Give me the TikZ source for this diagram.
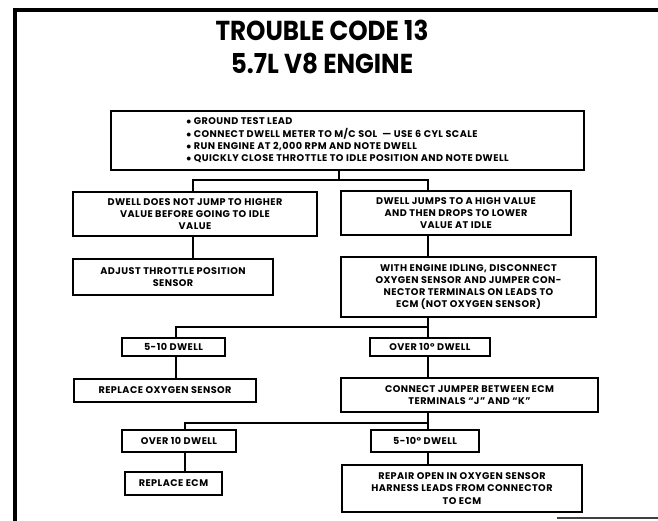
\documentclass[tikz,border=0pt]{standalone}
\usepackage{fontspec}
\setmainfont{Poppins}
\newfontfamily\titlefont[FakeStretch=0.9]{Poppins}
\newfontfamily\labelfont[LetterSpace=4.5]{Poppins}
\newcommand\bodyfont{\labelfont\fontsize{9.7}{12.3}\selectfont\bfseries}
\begin{document}
\begin{tikzpicture}[x=1bp,y=-1bp,
  box/.style={draw, line width=1.7bp, inner sep=0pt, outer sep=0pt,
    align=center, font=\bodyfont, anchor=north west},
  conn/.style={line width=1.7bp},
  frameline/.style={line width=3.6bp},
  titletext/.style={font=\titlefont\bfseries\fontsize{27.5}{33}\selectfont, anchor=base}]
\useasboundingbox (0,0) rectangle (658,521);

% page frame
\draw[frameline] (15,521) -- (15,10) -- (658,10);
\draw[line width=1.6bp, black!75] (557,518) -- (658,518);

% heading
\node[titletext] (title1) at (322,41) {TROUBLE CODE 13};
\node[titletext] (title2) at (322,74) {5.7L V8 ENGINE};

% test procedure
\node[box, minimum width=473bp, minimum height=59bp, align=left] (b0) at (111,111)
  {$\bullet$\ GROUND TEST LEAD\\
   $\bullet$\ CONNECT DWELL METER TO M/C SOL\ \ — USE 6 CYL SCALE\\
   $\bullet$\ RUN ENGINE AT 2,000 RPM AND NOTE DWELL\\
   $\bullet$\ QUICKLY CLOSE THROTTLE TO IDLE POSITION AND NOTE DWELL};

% first result level
\node[box, minimum width=244bp, minimum height=44bp] (b1l) at (73,192)
  {DWELL DOES NOT JUMP TO HIGHER\\VALUE BEFORE GOING TO IDLE\\VALUE};
\node[box, minimum width=230bp, minimum height=44bp] (b1r) at (341,191)
  {DWELL JUMPS TO A HIGH VALUE\\AND THEN DROPS TO LOWER\\VALUE AT IDLE};

\node[box, minimum width=200bp, minimum height=36bp] (b2l) at (73,259)
  {ADJUST THROTTLE POSITION\\SENSOR};
\node[box, minimum width=255bp, minimum height=60bp] (b2r) at (341,257)
  {WITH ENGINE IDLING, DISCONNECT\\OXYGEN SENSOR AND JUMPER CON-\\NECTOR TERMINALS ON LEADS TO\\ECM (NOT OXYGEN SENSOR)};

% second result level
\node[box, minimum width=103bp, minimum height=18bp] (b3l) at (122,338) {5-10 DWELL};
\node[box, minimum width=120bp, minimum height=18bp] (b3r) at (370,338) {OVER 10° DWELL};

\node[box, minimum width=182bp, minimum height=23bp] (b4l) at (74,379) {REPLACE OXYGEN SENSOR};
\node[box, minimum width=257bp, minimum height=34bp] (b4r) at (341,378)
  {CONNECT JUMPER BETWEEN ECM\\TERMINALS “J” AND “K”};

% third result level
\node[box, minimum width=114bp, minimum height=22bp] (b5l) at (122,430) {OVER 10 DWELL};
\node[box, minimum width=108bp, minimum height=22bp] (b5r) at (371,430) {5-10° DWELL};

\node[box, minimum width=97bp, minimum height=23bp] (b6l) at (125,472) {REPLACE ECM};
\node[box, minimum width=240bp, minimum height=47bp] (b6r) at (342,465)
  {REPAIR OPEN IN OXYGEN SENSOR\\HARNESS LEADS FROM CONNECTOR\\TO ECM};

% branch points
\coordinate (h1m) at (339,180);
\coordinate (h1l) at (193,180);
\coordinate (h1r) at (428,180);
\coordinate (h2l) at (176,327);
\coordinate (h2r) at (428,327);
\coordinate (h3l) at (185,423);
\coordinate (h3r) at (428,423);

% connectors
\draw[conn] (b0.south -| h1m) -- (h1m);
\draw[conn] (b1l.north -| h1l) -- (h1l) -- (h1r) -- (b1r.north -| h1r);
\draw[conn] (b1l.south -| h1l) -- (b2l.north -| h1l);
\draw[conn] (b1r.south -| h1r) -- (b2r.north -| h1r);

\draw[conn] (b2r.south -| h2r) -- (h2r) -- (h2l) -- (b3l.north -| h2l);
\draw[conn] (h2r) -- (b3r.north -| h2r);
\draw[conn] (b3l.south -| h2l) -- (b4l.north -| h2l);
\draw[conn] (b3r.south -| h2r) -- (b4r.north -| h2r);

\draw[conn] (b4r.south -| h3r) -- (h3r) -- (h3l) -- (b5l.north -| h3l);
\draw[conn] (h3r) -- (b5r.north -| h3r);
\draw[conn] (b5l.south -| h3l) -- (b6l.north -| h3l);
\draw[conn] (b5r.south -| h3r) -- (b6r.north -| h3r);
\end{tikzpicture}
\end{document}
